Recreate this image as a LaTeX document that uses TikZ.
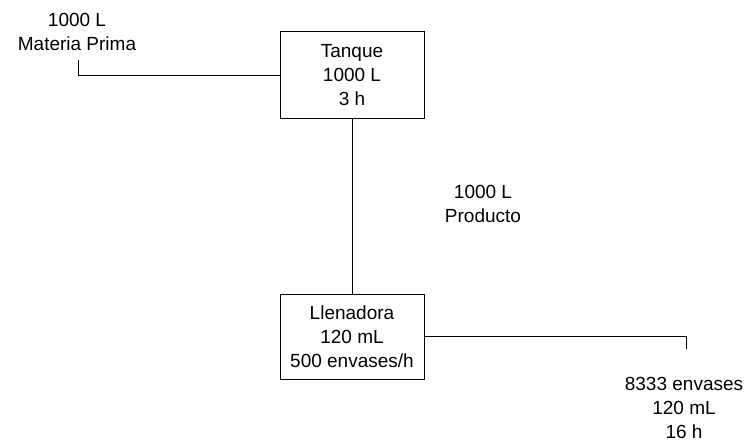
\documentclass[tikz,border=0pt]{standalone}
\usepackage{fontspec}
\setmainfont{Liberation Sans}
\usepackage{xcolor}
\definecolor{cLine}{HTML}{000000}
\usepackage{tikz}
\usetikzlibrary{positioning}
\tikzset{
  node-box/.style={draw=cLine,line width=1pt,minimum height=86pt,
    minimum width=144pt,align=center,inner sep=0pt,
    font=\fontsize{19}{24}\selectfont},
  node-label/.style={align=center,inner sep=0pt,
    font=\fontsize{19}{24}\selectfont},
  link/.style={draw=cLine,line width=1pt},
}
\begin{document}
\begin{tikzpicture}[x=1pt,y=-1pt,node distance=175pt]
  \useasboundingbox (0,0) rectangle (751,444);
  \node[node-box] (tanque) at (352,75) {Tanque\\1000 L\\3 h};
  \node[node-box,minimum height=85pt,below=of tanque] (llena)
    {Llenadora\\120 mL\\500 envases/h};
  \node[node-label] (mp) at (77,32) {1000 L\\Materia Prima};
  \node[node-label] (prod) at (483,204) {1000 L\\Producto};
  \node[node-label] (env) at (684,408) {8333 envases\\120 mL\\16 h};
  \coordinate (mp-end) at (78,60);
  \coordinate (env-end) at (686,349);
  \draw[link] (mp-end) |- (tanque.west);
  \draw[link] (tanque) -- (llena);
  \draw[link] (llena.east) -| (env-end);
\end{tikzpicture}
\end{document}
